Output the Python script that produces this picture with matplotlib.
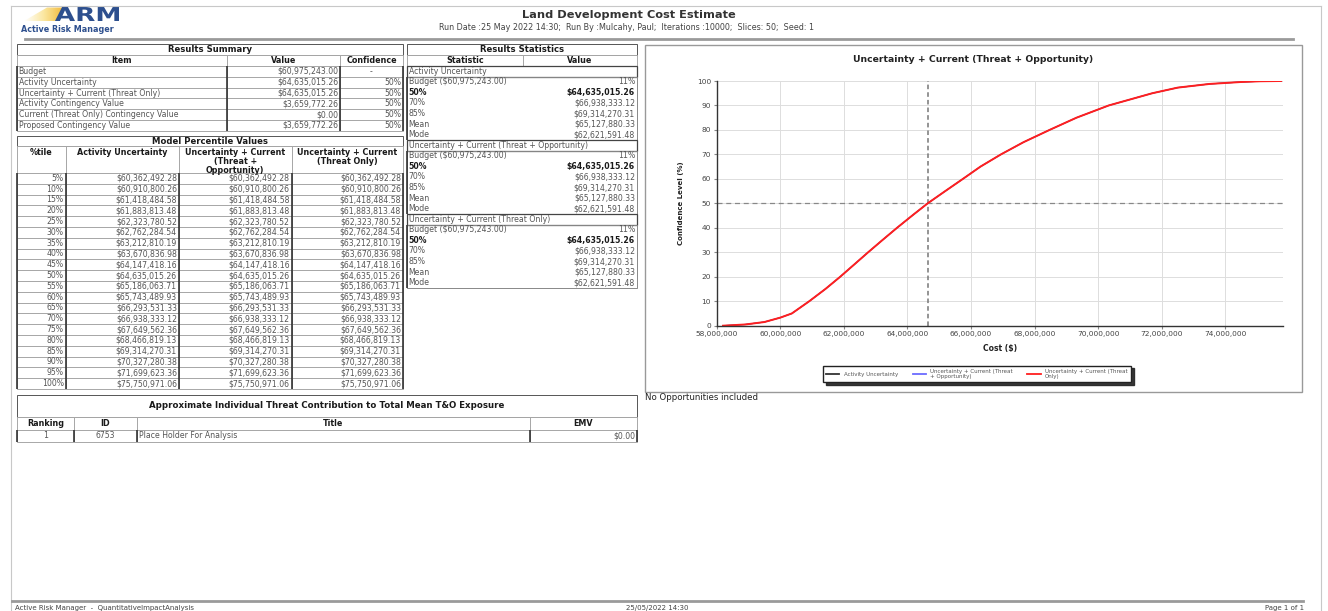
import matplotlib
matplotlib.use('Agg')
import matplotlib.pyplot as plt
import matplotlib.ticker as ticker
from matplotlib.patches import Rectangle, Polygon, PathPatch
from matplotlib.textpath import TextPath
from matplotlib.font_manager import FontProperties
from matplotlib.transforms import Affine2D
import numpy as np

plt.rcParams.update({'font.family': 'DejaVu Sans'})

W, H = 1328, 611
BODY = '#555555'
HEAD = '#1a1a1a'
BLUE = '#2d4f8e'

# --- report header ---
REPORT_TITLE = 'Land Development Cost Estimate'
RUN_INFO = ('Run Date :25 May 2022 14:30;  Run By :Mulcahy, Paul;  '
            'Iterations :10000;  Slices: 50;  Seed: 1')
FOOTER_LEFT = 'Active Risk Manager  -  QuantitativeImpactAnalysis'
FOOTER_MID = '25/05/2022 14:30'
FOOTER_RIGHT = 'Page 1 of 1'

# --- results summary ---
SUMMARY_ITEMS = ['Budget', 'Activity Uncertainty',
                 'Uncertainty + Current (Threat Only)',
                 'Activity Contingency Value',
                 'Current (Threat Only) Contingency Value',
                 'Proposed Contingency Value']
SUMMARY_VALUES = [60975243.00, 64635015.26, 64635015.26,
                  3659772.26, 0.00, 3659772.26]
SUMMARY_CONF = ['-', '50%', '50%', '50%', '50%', '50%']

# --- model percentile values ---
PERCENTILES = [5, 10, 15, 20, 25, 30, 35, 40, 45, 50,
               55, 60, 65, 70, 75, 80, 85, 90, 95, 100]
ACTIVITY_VALUES = [60362492.28, 60910800.26, 61418484.58, 61883813.48,
                   62323780.52, 62762284.54, 63212810.19, 63670836.98,
                   64147418.16, 64635015.26, 65186063.71, 65743489.93,
                   66293531.33, 66938333.12, 67649562.36, 68466819.13,
                   69314270.31, 70327280.38, 71699623.36, 75750971.06]
TO_VALUES = list(ACTIVITY_VALUES)
THREAT_ONLY_VALUES = list(ACTIVITY_VALUES)
PCT_HEADERS = ['%tile', 'Activity Uncertainty',
               'Uncertainty + Current\n(Threat +\nOpportunity)',
               'Uncertainty + Current\n(Threat Only)']

# --- results statistics ---
STAT_SECTIONS = ['Activity Uncertainty',
                 'Uncertainty + Current (Threat + Opportunity)',
                 'Uncertainty + Current (Threat Only)']
STAT_NAMES = ['Budget ($60,975,243.00)', '50%', '70%', '85%', 'Mean', 'Mode']
STAT_VALUES = ['11%', '$64,635,015.26', '$66,938,333.12', '$69,314,270.31',
               '$65,127,880.33', '$62,621,591.48']

# --- threat contribution ---
THREAT_RANK = ['1']
THREAT_ID = ['6753']
THREAT_TITLE = ['Place Holder For Analysis']
THREAT_EMV = ['$0.00']

# --- S-curve tails outside the 5%..95% percentiles ---
LOW_TAIL_COST = [58.2e6, 58.9e6, 59.5e6, 60.0e6]
LOW_TAIL_LEVEL = [0, 0.5, 1.5, 3.3]
HIGH_TAIL_COST = [72.5e6, 73.5e6, 74.5e6, 75.1e6]
HIGH_TAIL_LEVEL = [97.3, 98.8, 99.6, 99.9]
P50_COST = 64635015.26
X_TICKS = [58e6, 60e6, 62e6, 64e6, 66e6, 68e6, 70e6, 72e6, 74e6]

FS = 5.6      # table body text
FS_HEAD = 5.8  # column headers
FS_TITLE = 6.1  # table titles


def money(v):
    return '${:,.2f}'.format(v)


fig = plt.figure(figsize=(W / 100, H / 100), dpi=100)
page = fig.add_axes([0, 0, 1, 1])
page.set_xlim(0, W)
page.set_ylim(H, 0)
page.axis('off')


def box(x0, y0, x1, y1, ec='#a8a8a8', lw=0.7):
    page.add_patch(Rectangle((x0, y0), x1 - x0, y1 - y0, fill=False,
                             edgecolor=ec, lw=lw))


def txt(x, y, s, ha='left', bold=False, size=FS, color=BODY, va='center', **kw):
    page.text(x, y, s, ha=ha, va=va, fontsize=size, color=color,
              fontweight='bold' if bold else 'normal', **kw)


def vline(x, y0, y1, c='#333333', lw=1.2):
    page.plot([x, x], [y0, y1], color=c, lw=lw, solid_capstyle='butt')


# page frame and footer
page.plot([11, 1321], [6, 6], color='#c8c8c8', lw=0.8)
page.plot([11, 11], [6, H], color='#c8c8c8', lw=0.8)
page.plot([1321, 1321], [6, H], color='#c8c8c8', lw=0.8)
page.plot([12, 1303], [601, 601], color='#9a9a9a', lw=2)
txt(15, 608, FOOTER_LEFT, size=5, color='#444')
txt(626, 608, FOOTER_MID, size=5, color='#444')
txt(1304, 608, FOOTER_RIGHT, ha='right', size=5, color='#444')

# logo
swoosh = Polygon([(24, 21), (47, 7.5), (64, 7.5), (56, 21)], closed=True,
                 fc='none', ec='none')
page.add_patch(swoosh)
grad = np.linspace(0, 1, 64).reshape(1, -1)
im = page.imshow(grad, extent=(24, 64, 21, 7.5), aspect='auto',
                 cmap=matplotlib.colors.LinearSegmentedColormap.from_list(
                     'sw', ['#ffffff', '#fbe7a0', '#f2b93a']))
im.set_clip_path(swoosh)
page.set_xlim(0, W)
page.set_ylim(H, 0)
tp = TextPath((0, 0), 'ARM', size=10,
              prop=FontProperties(family='DejaVu Sans', weight='bold'))
bb = tp.get_extents()
tr = (Affine2D().translate(-bb.x0, -bb.y0)
      .scale(64 / bb.width, -14 / bb.height).translate(55, 21))
page.add_patch(PathPatch(tr.transform_path(tp), fc=BLUE, ec='none'))
txt(20.7, 30, 'Active Risk Manager', bold=True, size=5.8, color=BLUE)

# title block
txt(629, 15, REPORT_TITLE, ha='center', bold=True, size=8.2, color='#333')
txt(626.5, 27.5, RUN_INFO, ha='center', size=5.8, color='#444')
page.plot([25, 1293], [39, 39], color='#9a9a9a', lw=2)

# Results Summary
sx = [16.7, 226.7, 340, 403]
box(sx[0], 44, sx[3], 55, ec='#555')
txt((sx[0] + sx[3]) / 2, 49.5, 'Results Summary', ha='center', bold=True,
    size=FS_TITLE, color=HEAD)
for j, name in enumerate(['Item', 'Value', 'Confidence']):
    box(sx[j], 55, sx[j + 1], 66)
    txt((sx[j] + sx[j + 1]) / 2, 60.5, name, ha='center', bold=True,
        size=FS_HEAD, color=HEAD)
rh = 10.8
for i, (item, val, conf) in enumerate(zip(SUMMARY_ITEMS, SUMMARY_VALUES,
                                          SUMMARY_CONF)):
    y0 = 66 + i * rh
    for j in range(3):
        box(sx[j], y0, sx[j + 1], y0 + rh)
    yc = y0 + rh / 2
    txt(sx[0] + 2, yc, item)
    txt(sx[2] - 2, yc, money(val), ha='right')
    if conf == '-':
        txt((sx[2] + sx[3]) / 2, yc, conf, ha='center')
    else:
        txt(sx[3] - 2, yc, conf, ha='right')
yb = 66 + len(SUMMARY_ITEMS) * rh
for x in sx:
    vline(x, 66, yb)

# Model Percentile Values
px = [16.7, 65.7, 179, 291.7, 403]
box(px[0], 135.7, px[4], 146, ec='#555')
txt((px[0] + px[4]) / 2, 141, 'Model Percentile Values', ha='center',
    bold=True, size=FS_TITLE, color=HEAD)
for j, name in enumerate(PCT_HEADERS):
    box(px[j], 146, px[j + 1], 173)
    txt((px[j] + px[j + 1]) / 2, 148, name, ha='center', va='top', bold=True,
        size=FS_HEAD, color=HEAD, linespacing=1.0)
for i, p in enumerate(PERCENTILES):
    y0 = 173 + i * rh
    yc = y0 + rh / 2
    for j in range(4):
        box(px[j], y0, px[j + 1], y0 + rh)
    txt(px[1] - 2, yc, '{}%'.format(p), ha='right')
    for j, col in enumerate([ACTIVITY_VALUES, TO_VALUES, THREAT_ONLY_VALUES]):
        txt(px[j + 2] - 2, yc, money(col[i]), ha='right')
yb = 173 + len(PERCENTILES) * rh
for x in px:
    vline(x, 173, yb)

# Results Statistics
tx = [406.7, 523, 637]
box(tx[0], 44, tx[2], 55, ec='#555')
txt((tx[0] + tx[2]) / 2, 49.5, 'Results Statistics', ha='center', bold=True,
    size=FS_TITLE, color=HEAD)
for j, name in enumerate(['Statistic', 'Value']):
    box(tx[j], 55, tx[j + 1], 66)
    txt((tx[j] + tx[j + 1]) / 2, 60.5, name, ha='center', bold=True,
        size=FS_HEAD, color=HEAD)
sr = 10.57
for s, section in enumerate(STAT_SECTIONS):
    y0 = 66 + s * 7 * sr
    box(tx[0], y0, tx[2], y0 + sr, ec='#444', lw=0.9)
    txt(tx[0] + 2, y0 + sr / 2, section)
    box(tx[0], y0 + sr, tx[2], y0 + 7 * sr, ec='#888', lw=0.7)
    vline(tx[0], y0 + sr, y0 + 7 * sr)
    for k, (nm, val) in enumerate(zip(STAT_NAMES, STAT_VALUES)):
        yc = y0 + (k + 1.5) * sr
        bold = nm == '50%'
        txt(tx[0] + 2, yc, nm, bold=bold, color=HEAD if bold else BODY)
        txt(tx[2] - 2, yc, val, ha='right', bold=bold,
            color=HEAD if bold else BODY)

# Threat contribution table
cx = [16.7, 74.4, 136.7, 530, 637]
box(cx[0], 395, cx[4], 417, ec='#555')
txt((cx[0] + cx[4]) / 2, 406, 'Approximate Individual Threat Contribution '
    'to Total Mean T&O Exposure', ha='center', bold=True, size=6.2, color=HEAD)
for j, name in enumerate(['Ranking', 'ID', 'Title', 'EMV']):
    box(cx[j], 417, cx[j + 1], 430)
    txt((cx[j] + cx[j + 1]) / 2, 423.5, name, ha='center', bold=True,
        size=FS_HEAD, color=HEAD)
for i in range(len(THREAT_ID)):
    y0 = 430 + i * 12
    yc = y0 + 6
    for j in range(4):
        box(cx[j], y0, cx[j + 1], y0 + 12)
    txt((cx[0] + cx[1]) / 2, yc, THREAT_RANK[i], ha='center')
    txt((cx[1] + cx[2]) / 2, yc, THREAT_ID[i], ha='center')
    txt(cx[2] + 2, yc, THREAT_TITLE[i])
    txt(cx[4] - 2, yc, THREAT_EMV[i], ha='right')
    for x in cx:
        vline(x, y0, y0 + 12)

# Chart panel
box(644.5, 44.7, 1301.7, 392.3, ec='#999', lw=1)
txt(973, 60, 'Uncertainty + Current (Threat + Opportunity)', ha='center',
    bold=True, size=6.7, color='#222')
txt(645, 398, 'No Opportunities included', size=6.2, color='#222')

ax = fig.add_axes([716.7 / W, 1 - 325.7 / H, (1282.7 - 716.7) / W,
                   (325.7 - 81) / H])
ax.set_zorder(3)


def s_curve(values):
    cost = LOW_TAIL_COST + values[:-1] + HIGH_TAIL_COST + [values[-1]]
    level = LOW_TAIL_LEVEL + PERCENTILES[:-1] + HIGH_TAIL_LEVEL + [PERCENTILES[-1]]
    return cost, level


h1, = ax.plot(*s_curve(ACTIVITY_VALUES), color='#333333', lw=0.8)
h2, = ax.plot(*s_curve(TO_VALUES), color='#6b6bff', lw=0.8)
h3, = ax.plot(*s_curve(THREAT_ONLY_VALUES), color='#ff1f1f', lw=1.4)
ax.axvline(P50_COST, color='#777', ls=(0, (3, 2)), lw=1.1, zorder=1)
ax.axhline(50, color='#888', ls=(0, (4, 3)), lw=0.9, zorder=1)

ax.set_xlim(58e6, 75.8e6)
ax.set_ylim(0, 100)
ax.set_xticks(X_TICKS)
ax.set_yticks(range(0, 101, 10))
ax.xaxis.set_major_formatter(ticker.FuncFormatter(lambda v, p: '{:,.0f}'.format(v)))
ax.grid(True, color='#dddddd', lw=0.7)
ax.set_axisbelow(True)
for side in ['top', 'right']:
    ax.spines[side].set_visible(False)
for side in ['left', 'bottom']:
    ax.spines[side].set_color('#333')
    ax.spines[side].set_linewidth(1)
ax.tick_params(length=2, color='#888', labelsize=5.3, labelcolor='#444', pad=2)
ax.set_xlabel('Cost ($)', fontsize=5.5, fontweight='bold', color='#222',
              labelpad=5)
ax.set_ylabel('Confidence Level (%)', fontsize=5, fontweight='bold',
              color='#222', labelpad=9)

leg_lines = [plt.Line2D([], [], color='#333333', lw=1.3),
             plt.Line2D([], [], color='#6b6bff', lw=1.3),
             plt.Line2D([], [], color='#ff1f1f', lw=1.3)]
ax.legend(leg_lines, ['Activity Uncertainty',
                      'Uncertainty + Current (Threat\n+ Opportunity)',
                      'Uncertainty + Current (Threat\nOnly)'],
          ncol=3, loc='center', bbox_to_anchor=(977 / W, 1 - 374 / H),
          bbox_transform=fig.transFigure, fontsize=4.0, frameon=True,
          fancybox=False, shadow={'color': '#222', 'alpha': 0.9},
          edgecolor='#222', handlelength=2.4, columnspacing=2.6,
          borderpad=0.55, labelspacing=0.2, labelcolor='#555')

fig.savefig('out.png', dpi=100)
